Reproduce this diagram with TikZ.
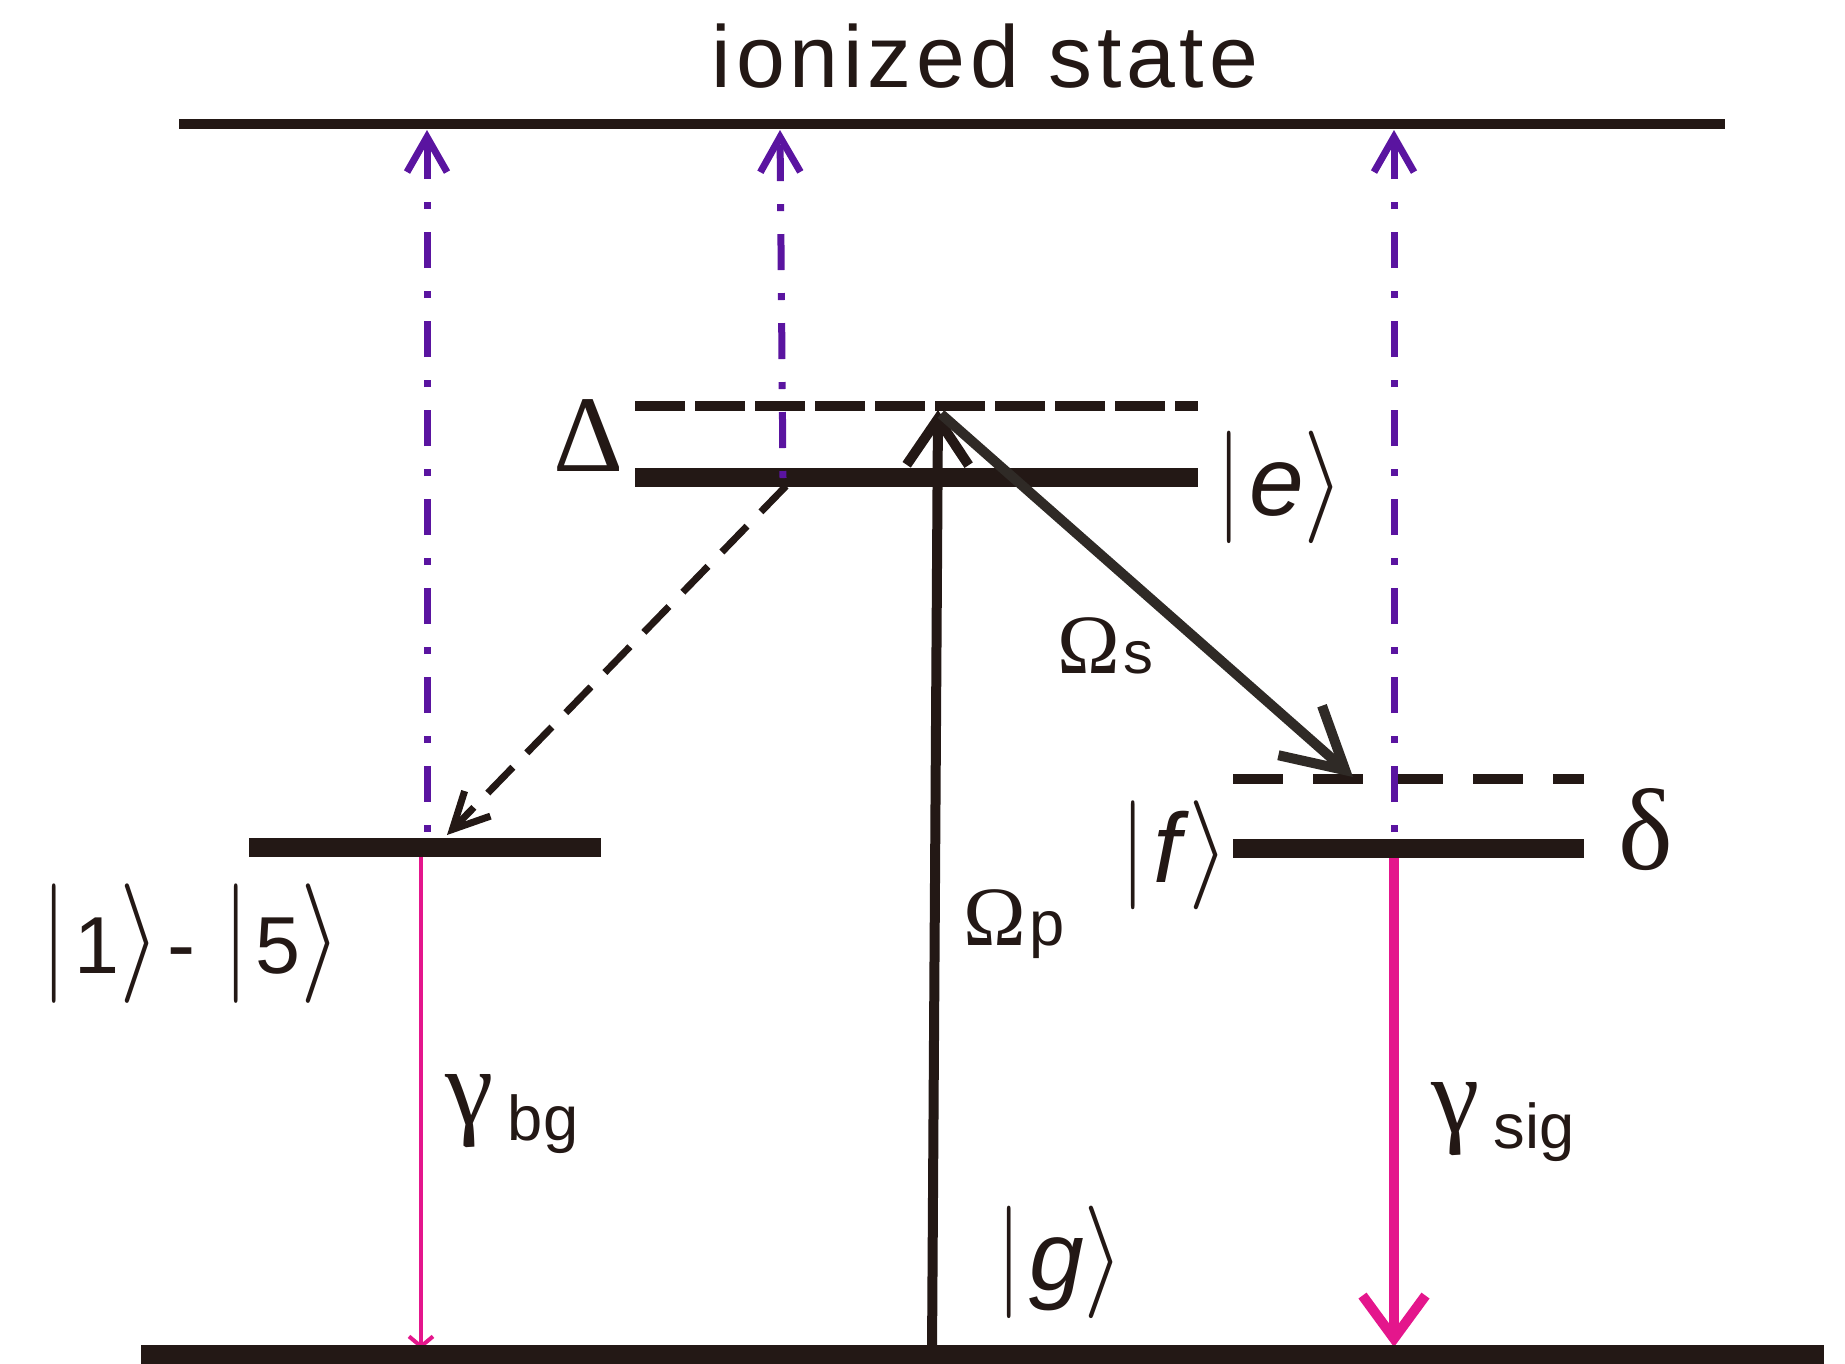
\documentclass[tikz,border=0pt]{standalone}
\usepackage{fontspec}
\usepackage{graphicx}
\setmainfont{Liberation Sans}
\newfontfamily\grkfont{Liberation Serif}
\usetikzlibrary{arrows.meta}
\definecolor{lvInk}{HTML}{231815}
\definecolor{laserInk}{HTML}{2F2A26}
\definecolor{ionViolet}{HTML}{5A14A0}
\definecolor{decayPink}{HTML}{E4168C}
% ket: vertical scale of bars, letter size, content
\newcommand{\ketlbl}[3]{\scalebox{2.6}[#1]{$|$}\kern2pt{\fontsize{#2}{#2}\selectfont#3}\kern0pt\scalebox{3}[#1]{$\rangle$}}

\begin{document}
\begin{tikzpicture}[x=0.1mm,y=-0.1mm,
    lvline/.style={line width=1.9mm,draw=lvInk},
    virtline/.style={line width=0.95mm,draw=lvInk},
    ionarr/.style={line width=0.7mm,draw=ionViolet,
      dash pattern=on 0.7mm off 2.3mm on 3.6mm off 2.3mm,
      -{Straight Barb[length=3.5mm,width=4mm]}},
    lbl/.style={inner sep=0pt,text=lvInk}]
  \useasboundingbox (0,0) rectangle (1845,1363);

  % level ends
  \coordinate (ionL) at (179,124);  \coordinate (ionR) at (1725,124);
  \coordinate (gL) at (141,1354);   \coordinate (gR) at (1824,1354);
  \coordinate (eL) at (635,477);    \coordinate (eR) at (1198,477);
  \coordinate (evL) at (635,406);   \coordinate (evR) at (1198,406);
  \coordinate (fL) at (1233,848);   \coordinate (fR) at (1584,848);
  \coordinate (fvL) at (1233,779);  \coordinate (fvR) at (1584,779);
  \coordinate (bgL) at (249,847);   \coordinate (bgR) at (601,847);

  % decays
  \coordinate (bgTop) at (421,851);  \coordinate (bgBot) at (421,1349);
  \coordinate (sgTop) at (1394,850); \coordinate (sgBot) at (1394,1347);
  \draw[line width=0.4mm,draw=decayPink,-{Straight Barb[length=1mm,width=2.4mm]}] (bgTop) -- (bgBot);
  \draw[line width=1mm,draw=decayPink,-{Straight Barb[length=4.3mm,width=6.3mm]}] (sgTop) -- (sgBot);

  % levels
  \draw[line width=1mm,draw=lvInk] (ionL) -- (ionR);
  \draw[lvline] (gL) -- (gR);
  \draw[lvline] (eL) -- (eR);
  \draw[lvline] (fL) -- (fR);
  \draw[lvline] (bgL) -- (bgR);
  \draw[virtline,dash pattern=on 5mm off 1mm] (evL) -- (evR);
  \draw[virtline,dash pattern=on 5mm off 3mm] (fvL) -- (fvR);

  % lasers
  \coordinate (pBot) at (932,1354); \coordinate (pTop) at (938,410);
  \coordinate (sTop) at (941,414);  \coordinate (sBot) at (1353,777);
  \draw[line width=1mm,draw=lvInk,-{Straight Barb[length=4.6mm,width=6.2mm]}] (pBot) -- (pTop);
  \draw[line width=1mm,draw=laserInk,-{Straight Barb[length=6mm,width=6.6mm]}] (sTop) -- (sBot);

  % spontaneous decay e -> 1..5
  \coordinate (dcTop) at (786,486); \coordinate (dcBot) at (447,835);
  \draw[line width=0.7mm,draw=lvInk,dash pattern=on 3.6mm off 2mm,
    -{Straight Barb[length=3.6mm,width=3.6mm]}] (dcTop) -- (dcBot);

  % ionization
  \coordinate (iA0) at (427,832);  \coordinate (iA1) at (427,130);
  \coordinate (iB0) at (783,478);  \coordinate (iB1) at (780,130);
  \coordinate (iC0) at (1394,832); \coordinate (iC1) at (1394,130);
  \draw[ionarr] (iA0) -- (iA1);
  \draw[ionarr] (iB0) -- (iB1);
  \draw[ionarr] (iC0) -- (iC1);

  % labels
  \node[lbl,anchor=base] (ionlbl) at (985,87) {\fontsize{25}{25}\selectfont\addfontfeatures{LetterSpace=5.5}ionized state};
  \node[lbl,anchor=base] (Dlbl) at (589,471) {\grkfont\fontsize{31}{31}\selectfont Δ};
  \node[lbl,anchor=base] (dlbl) at (1646,869) {\grkfont\fontsize{33}{33}\selectfont δ};
  \node[lbl,anchor=base west] (ekt) at (1216,515) {\ketlbl{3.2}{28}{\textit{e}}};
  \node[lbl,anchor=base west] (fkt) at (1120,882) {\ketlbl{3.1}{28}{\textit{f}}};
  \node[lbl,anchor=base west] (gkt) at (996,1290) {\ketlbl{3.2}{28}{\textit{g}}};
  \node[lbl,anchor=base west] (bgkt) at (41,973) {\ketlbl{3.4}{23}{1}\hspace{2pt}{\fontsize{24}{24}\selectfont-}\hspace{8pt}\ketlbl{3.4}{23}{5}};
  \node[lbl,anchor=base west] (Oslbl) at (1057,673) {{\grkfont\fontsize{24}{24}\selectfont Ω}\kern1pt{\fontsize{17}{17}\selectfont s}};
  \node[lbl,anchor=base west] (Oplbl) at (963,945) {{\grkfont\fontsize{24}{24}\selectfont Ω}\kern1pt{\fontsize{18}{18}\selectfont p}};
  \node[lbl,anchor=base west] (gbglbl) at (445,1140) {\raisebox{4.5pt}{\grkfont\fontsize{31}{31}\selectfont γ}\kern4pt{\fontsize{18}{18}\selectfont bg}};
  \node[lbl,anchor=base west] (gsglbl) at (1431,1148) {\raisebox{4.5pt}{\grkfont\fontsize{31}{31}\selectfont γ}\kern4pt{\fontsize{18}{18}\selectfont sig}};
\end{tikzpicture}
\end{document}
